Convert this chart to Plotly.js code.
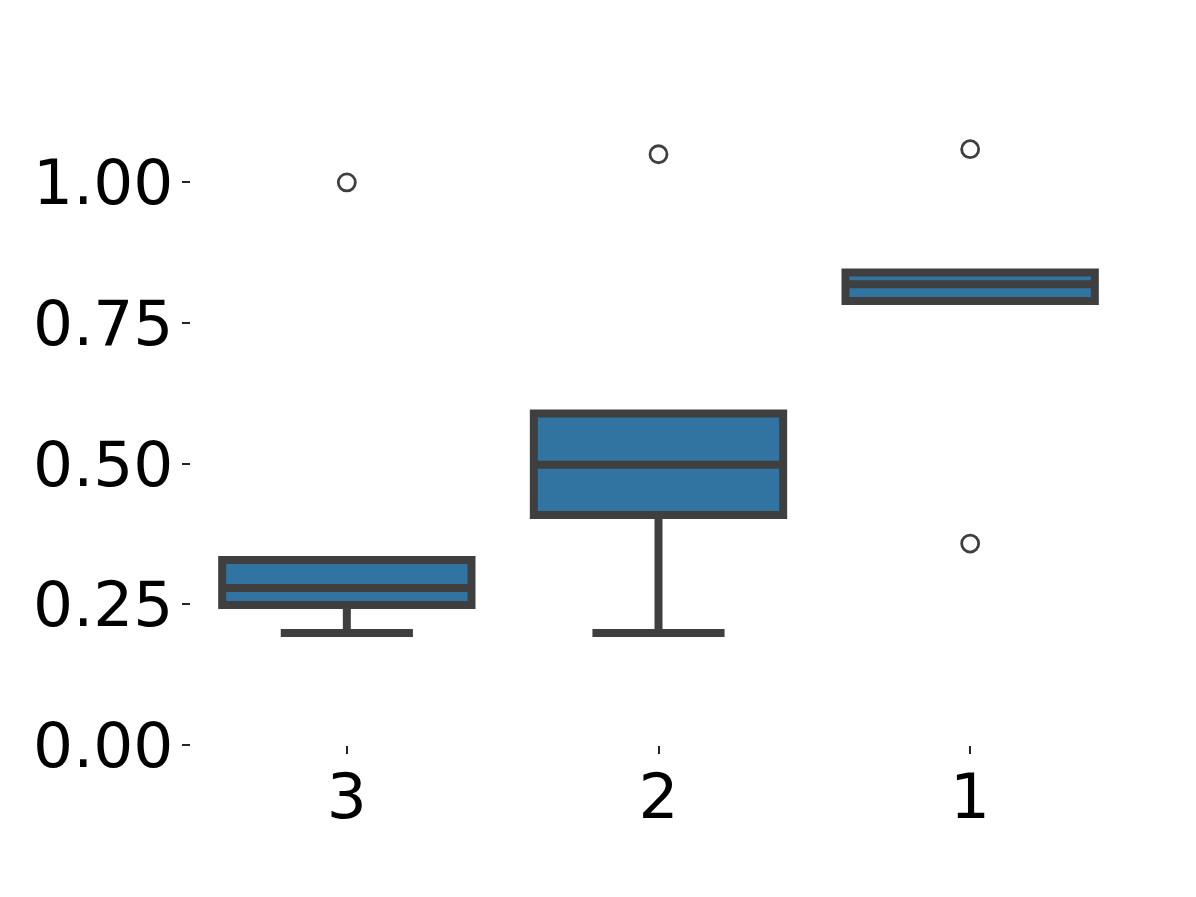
<!DOCTYPE html>
<html>
<head>
<meta charset="utf-8">
<script src="https://cdn.plot.ly/plotly-3.0.1.min.js"></script>
<style>html,body{margin:0;padding:0;background:#fff;}#chart{width:1196px;height:897px;}</style>
</head>
<body>
<div id="chart"></div>
<script>
var categories = ['3', '2', '1'];
var q1 = [0.249, 0.409, 0.789];
var median = [0.279, 0.498, 0.819];
var q3 = [0.329, 0.589, 0.840];
var lowerfence = [0.199, 0.199, 0.789];
var upperfence = [0.329, 0.589, 0.840];
var outlierCats = ['3', '2', '1', '1'];
var outlierVals = [1.000, 1.050, 1.059, 0.358];

var boxColor = '#3274a1';
var lineColor = '#3f3f3f';

var data = [
  {
    type: 'box',
    x: categories,
    q1: q1,
    median: median,
    q3: q3,
    lowerfence: lowerfence,
    upperfence: upperfence,
    width: 0.8,
    whiskerwidth: 0.53,
    fillcolor: boxColor,
    line: {color: lineColor, width: 8},
    boxpoints: false,
    hoverinfo: 'skip',
    showlegend: false
  },
  {
    type: 'scatter',
    mode: 'markers',
    x: outlierCats,
    y: outlierVals,
    marker: {symbol: 'circle-open', size: 17, color: lineColor, line: {width: 2.8, color: lineColor}},
    showlegend: false,
    hoverinfo: 'skip'
  }
];

var layout = {
  width: 1196,
  height: 897,
  paper_bgcolor: '#ffffff',
  plot_bgcolor: '#ffffff',
  margin: {l: 191, r: 70, t: 97.5, b: 152},
  font: {family: 'DejaVu Sans, sans-serif', color: '#000000'},
  xaxis: {
    type: 'category',
    categoryorder: 'array',
    categoryarray: categories,
    range: [-0.5, 2.5],
    showgrid: false,
    zeroline: false,
    showline: false,
    ticks: 'outside',
    ticklen: 8,
    tickwidth: 2,
    tickcolor: '#262626',
    tickfont: {size: 63, family: 'DejaVu Sans', color: '#000000'},
    ticklabelstandoff: -12
  },
  yaxis: {
    range: [0, 1.15],
    tickvals: [0, 0.25, 0.5, 0.75, 1.0],
    ticktext: ['0.00', '0.25', '0.50', '0.75', '1.00'],
    showgrid: false,
    zeroline: false,
    showline: false,
    ticks: 'outside',
    ticklen: 8,
    tickwidth: 2,
    tickcolor: '#262626',
    tickfont: {size: 63, family: 'DejaVu Sans', color: '#000000'},
    ticklabelstandoff: -4
  }
};

Plotly.newPlot('chart', data, layout, {staticPlot: true});
</script>
</body>
</html>
